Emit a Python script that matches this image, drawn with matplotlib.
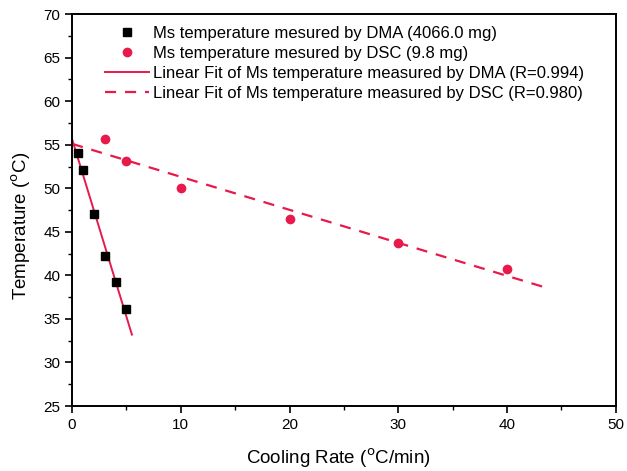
import matplotlib.pyplot as plt
import numpy as np
from matplotlib.ticker import MultipleLocator

plt.rcParams['font.family'] = ['Liberation Sans', 'DejaVu Sans']

# DMA measurements (4066.0 mg sample)
dma_rate = [0.5, 1, 2, 3, 4, 5]
dma_temp = [54.0, 52.1, 47.0, 42.2, 39.2, 36.1]

# DSC measurements (9.8 mg sample)
dsc_rate = [3, 5, 10, 20, 30, 40]
dsc_temp = [55.7, 53.1, 50.0, 46.5, 43.7, 40.7]

red = '#e8194b'

fig = plt.figure(figsize=(6.27, 4.71), dpi=100)
ax = fig.add_axes([0.115, 0.138, 0.867, 0.832])

# linear fits
k1, b1 = np.polyfit(dma_rate, dma_temp, 1)
k2, b2 = np.polyfit(dsc_rate, dsc_temp, 1)
x1 = np.array([0, 5.5])
x2 = np.array([0, 43.5])

ax.plot(dma_rate, dma_temp, 's', color='black', markersize=6,
        label='Ms temperature mesured by DMA (4066.0 mg)', zorder=3)
ax.plot(dsc_rate, dsc_temp, 'o', color=red, markersize=7, markeredgewidth=0,
        label='Ms temperature mesured by DSC (9.8 mg)', zorder=3)
ax.plot(x1, k1 * x1 + b1, '-', color=red, linewidth=1.4,
        label='Linear Fit of Ms temperature measured by DMA (R=0.994)')
ax.plot(x2, k2 * x2 + b2, '--', color=red, linewidth=1.6, dashes=(5, 4),
        label='Linear Fit of Ms temperature measured by DSC (R=0.980)')

ax.set_xlim(0, 50)
ax.set_ylim(25, 70)
ax.xaxis.set_major_locator(MultipleLocator(10))
ax.xaxis.set_minor_locator(MultipleLocator(5))
ax.yaxis.set_major_locator(MultipleLocator(5))
ax.yaxis.set_minor_locator(MultipleLocator(2.5))
ax.tick_params(which='both', direction='out', labelsize=11)
ax.tick_params(which='major', length=5, width=1.2)
ax.tick_params(which='minor', length=3, width=1.0)
for s in ax.spines.values():
    s.set_linewidth(1.4)

ax.set_xlabel('Cooling Rate ($^{\\rm o}$C/min)', fontsize=13.5)
ax.set_ylabel('Temperature ($^{\\rm o}$C)', fontsize=13.5)
ax.xaxis.set_label_coords(0.49, -0.103)
ax.yaxis.set_label_coords(-0.072, 0.46)

ax.legend(loc='upper left', frameon=False, fontsize=12, handlelength=2.6,
          handletextpad=0.25, labelspacing=0.3, borderaxespad=0,
          borderpad=0, bbox_to_anchor=(0.061, 0.969))

fig.savefig('out.png', dpi=100)
